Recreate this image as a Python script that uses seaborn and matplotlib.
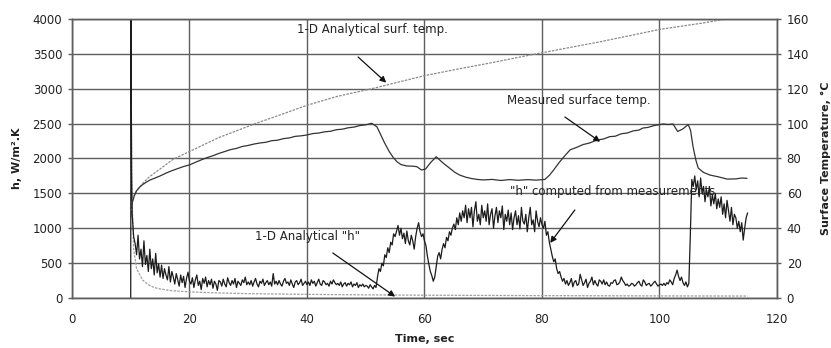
import numpy as np
import pandas as pd
import matplotlib
matplotlib.use("Agg")
import matplotlib.pyplot as plt
import seaborn as sns

# ---- heat transfer coefficient computed from measurements (W/m^2.K) ----
h_start_time = [10.0, 10.05, 10.15]
h_start_vals = [0, 4000, 1800]
h_grid_time = np.arange(10.25, 115.001, 0.25)        # 0.25 s sampling after start
h_meas = [
    # 10.25 - 15.0
    1200, 880, 780, 620, 900, 560, 700, 450, 820, 480, 610, 380, 700, 420, 560, 330, 640, 360, 490, 300,
    # 15.25 - 20.0
    470, 280, 420, 330, 260, 450, 230, 380, 300, 200, 350, 260, 170, 330, 220, 310, 150, 280, 370, 240,
    # 20.25 - 25.0
    200, 290, 150, 260, 330, 180, 240, 120, 280, 210, 300, 160, 250, 190, 270, 140, 240, 200, 110, 250,
    # 25.25 - 30.0
    230, 170, 270, 200, 160, 290, 220, 180, 250, 200, 280, 150, 240, 210, 180, 260, 220, 300, 190, 230,
    # 30.25 - 35.0
    190, 250, 170, 230, 280, 200, 160, 240, 210, 270, 180, 220, 250, 190, 230, 170, 350, 200, 240, 190,
    # 35.25 - 40.0
    250, 200, 170, 240, 280, 210, 230, 180, 260, 200, 150, 230, 250, 190, 220, 270, 180, 210, 240, 190,
    # 40.25 - 45.0
    230, 180, 260, 210, 240, 170, 220, 270, 200, 180, 250, 230, 190, 210, 170, 240, 200, 260, 220, 190,
    # 45.25 - 50.0
    210, 180, 230, 160, 200, 220, 170, 210, 190, 230, 160, 200, 180, 220, 150, 190, 170, 200, 160, 180,
    # 50.25 - 55.0
    170, 140, 190, 160, 130, 180, 150, 300, 420, 380, 500, 460, 620, 580, 720, 650, 800, 760, 920, 880,
    # 55.25 - 60.0
    960, 1040, 900, 1000, 850, 930, 780, 960, 820, 760, 900, 820, 700, 880, 1000, 1080, 950, 880, 920, 820,
    # 60.25 - 65.0
    750, 600, 480, 380, 320, 240, 300, 450, 600, 650, 560, 700, 780, 720, 870, 820, 950, 900, 1000, 1060,
    # 65.25 - 70.0
    980, 1150, 1050, 1220, 1100, 1250, 1150, 1330, 1080, 1280, 1150, 1300, 1020, 1250, 1380, 1100, 1200, 1050, 1330, 1150,
    # 70.25 - 75.0
    1250, 1100, 1350, 1050, 1200, 1280, 1000, 1180, 1300, 1080, 1250, 1150, 1320, 980, 1200, 1100, 1260, 1050, 1220, 980,
    # 75.25 - 80.0
    1150, 1250, 1050, 1180, 990, 1300, 1100, 1060, 1200, 950, 1150, 1300, 1050, 1120, 950, 1250, 1100, 1020, 1150, 1050,
    # 80.25 - 85.0
    1000, 1100, 900, 950, 800, 700, 600, 520, 560, 420, 350, 380, 300, 240, 280, 200, 250, 180, 220, 280,
    # 85.25 - 90.0
    160, 230, 250, 180, 200, 340, 260, 180, 220, 270, 150, 210, 240, 300, 190, 250, 200, 170, 260, 240,
    # 90.25 - 95.0
    200, 260, 190, 230, 180, 170, 220, 210, 250, 260, 190, 200, 230, 300, 250, 220, 180, 200, 170, 180,
    # 95.25 - 100.0
    210, 200, 170, 190, 220, 240, 190, 170, 260, 230, 180, 200, 210, 170, 190, 220, 240, 200, 170, 190,
    # 100.25 - 105.0
    200, 180, 210, 180, 220, 200, 260, 230, 190, 280, 330, 400, 310, 250, 300, 220, 180, 230, 160, 210,
    # 105.25 - 110.0
    900, 1700, 1600, 1750, 1550, 1680, 1450, 1720, 1500, 1600, 1380, 1550, 1450, 1600, 1320, 1480, 1350, 1500, 1280, 1420,
    # 110.25 - 115.0
    1300, 1450, 1200, 1350, 1150, 1400, 1250, 1100, 1300, 1050, 1200, 1150, 1000, 1100, 950, 1080, 830, 1000, 1150, 1220,
]

# ---- 1-D analytical h ----
h_ana_time = [10.0, 10.2, 10.5, 11, 12, 13, 14, 15, 17, 20, 25, 30, 40, 50, 60, 80, 100, 115]
h_ana_vals = [4000, 1500, 700, 420, 260, 190, 150, 130, 105, 88, 72, 62, 52, 45, 40, 34, 30, 28]

# ---- measured surface temperature (deg C) ----
t_meas_time = [10.0, 10.3, 10.6, 11.0, 11.5, 12.0, 12.7, 13.3, 14.0, 15.0, 16.0, 17.0, 18.0,
               19.0, 20.0, 21.0, 22.0, 23.0, 24.0, 25.0, 26.0, 26.9, 28.0, 29.0, 30.0, 31.0,
               32.0, 33.0, 34.0, 35.0, 36.0, 37.0, 38.0, 39.0, 40.0, 41.0, 42.0, 43.0, 44.0,
               45.0, 46.0, 47.0, 48.0, 49.0, 50.0, 51.0, 51.9, 52.5, 53.2, 54.0, 54.7, 55.3,
               56.0, 57.0, 58.0, 58.7, 59.5, 60.2, 61.0, 62.0, 62.8, 63.5, 64.3, 65.2, 66.0,
               67.0, 68.0, 69.0, 70.0, 71.5, 73.0, 74.5, 76.0, 77.5, 79.0, 80.5, 81.3, 82.0,
               83.0, 84.0, 84.8, 86.0, 87.0, 88.0, 89.4, 90.5, 91.5, 92.5, 93.5, 94.5, 95.5,
               96.5, 97.2, 98.0, 99.0, 99.8, 100.6, 101.5, 102.3, 103.1, 104.0, 104.9, 105.3,
               105.7, 106.2, 106.6, 107.5, 108.6, 110.0, 111.5, 113.0, 114.0, 114.9]
t_meas_vals = [50.5, 55, 58.5, 61.5, 63.5, 65, 66.5, 67.7, 68.6, 70, 71.6, 73, 74.2,
               75.4, 76.3, 77.8, 79.2, 80.5, 81.6, 82.9, 84, 85, 85.8, 86.9, 87.5, 88.3,
               88.9, 89.3, 90.2, 90.5, 91.4, 91.8, 92.7, 93.0, 93.5, 94.3, 94.6, 95.3, 95.6,
               96.5, 96.8, 97.6, 98.0, 98.9, 99.3, 100.2, 98.2, 94, 89, 84, 80.5, 78.2,
               76.5, 75.7, 75.6, 75.3, 73.4, 74, 77.5, 81, 78.5, 76.5, 74.4, 72, 70.5,
               69.3, 68.5, 68.0, 67.7, 68.0, 67.4, 67.9, 67.5, 67.9, 67.6, 68, 70.5, 73.5,
               78, 82, 85, 86.5, 88, 88.8, 90.6, 91.2, 92.5, 92.8, 94.2, 94.6, 95.8,
               96.3, 97.5, 97.8, 98.8, 99.3, 99.8, 99.5, 99.8, 95.5, 97, 99.5, 96,
               87, 79, 74.5, 72, 70.5, 69.5, 68.2, 68.3, 68.8, 68.6]

# ---- 1-D analytical surface temperature (deg C) ----
t_ana_time = [10.0, 10.3, 10.6, 11, 12, 13, 14, 15, 16, 17.2, 20, 25, 31.2, 35, 40, 45, 51,
              60, 66, 70, 79, 90, 100, 107, 111.4, 114.2]
t_ana_vals = [50, 56, 59, 61.5, 65.5, 69, 71.5, 74, 76.5, 79.5, 84, 92, 100, 104.5, 110.5,
              115.5, 120, 127.5, 131.5, 134, 140, 147, 154, 157.5, 160, 162]

x_ticks = list(range(0, 121, 20))
h_ticks = list(range(0, 4001, 500))
temp_ticks = list(range(0, 161, 20))

h_df = pd.DataFrame({"time": np.concatenate([h_start_time, h_grid_time]),
                     "h": np.concatenate([h_start_vals, h_meas])})
h_ana_df = pd.DataFrame({"time": h_ana_time, "h": h_ana_vals})
tm_df = pd.DataFrame({"time": t_meas_time, "temp": t_meas_vals})
ta_df = pd.DataFrame({"time": t_ana_time, "temp": t_ana_vals})

sns.set_style("white")
plt.rcParams["font.family"] = ["DejaVu Sans"]

fig = plt.figure(figsize=(8.31, 3.48), dpi=100)
ax = fig.add_axes([0.0866, 0.1437, 0.8484, 0.8017])
ax2 = ax.twinx()

grid_col = "#5e5e5e"
ink = "#1c1c1c"

sns.lineplot(data=h_ana_df, x="time", y="h", ax=ax, color="#a0a0a0", lw=0.9,
             linestyle=(0, (2, 1)), estimator=None, sort=False)
sns.lineplot(data=h_df, x="time", y="h", ax=ax, color=ink, lw=0.9,
             estimator=None, sort=False)
sns.lineplot(data=ta_df, x="time", y="temp", ax=ax2, color="#8a8a8a", lw=0.9,
             linestyle=(0, (2, 1)), estimator=None, sort=False)
sns.lineplot(data=tm_df, x="time", y="temp", ax=ax2, color="#333333", lw=0.9,
             estimator=None, sort=False)

ax.set_xlim(0, 120)
ax.set_ylim(0, 4000)
ax2.set_ylim(0, 160)
ax.set_xticks(x_ticks)
ax.set_yticks(h_ticks)
ax2.set_yticks(temp_ticks)
ax.grid(True, color=grid_col, lw=1.0)
ax.set_axisbelow(True)
ax2.grid(False)

for a in (ax, ax2):
    for s in a.spines.values():
        s.set_color(grid_col)
        s.set_linewidth(1.0)

ax.tick_params(axis="y", direction="out", length=3, width=1, color=grid_col,
               labelsize=8.5, labelcolor="#222", pad=4)
ax.tick_params(axis="x", direction="out", length=3, width=1, color=grid_col,
               labelsize=8.5, labelcolor="#222", pad=8)
ax2.tick_params(axis="y", direction="out", length=3, width=1, color=grid_col,
                labelsize=8.5, labelcolor="#222", pad=4)

ax.set_xlabel("Time, sec", fontsize=8, fontweight="bold", color="#222")
ax.set_ylabel("h, W/m².K", fontsize=8, fontweight="bold", color="#222")
ax2.set_ylabel("Surface Temperature, °C", fontsize=8, fontweight="bold", color="#222")
ax.xaxis.set_label_coords(0.5007, -0.129)
ax.yaxis.set_label_coords(-0.071, 0.5)
ax2.yaxis.set_label_coords(1.0624, 0.5)

arrow = dict(arrowstyle="-|>", color="#111", lw=0.9, mutation_scale=9, shrinkA=0, shrinkB=0)
txt = dict(fontsize=8.5, color="#222", ha="left", va="center")

ax2.annotate("", xy=(53.5, 123.5), xytext=(48.7, 138.2), arrowprops=arrow)
ax2.text(38.3, 153.7, "1-D Analytical surf. temp.", **txt)
ax2.annotate("", xy=(89.9, 89.6), xytext=(83.9, 103.8), arrowprops=arrow)
ax2.text(74.0, 113.5, "Measured surface temp.", **txt)
ax.annotate("", xy=(81.4, 790), xytext=(85.6, 1262), arrowprops=arrow)
ax.text(74.6, 1520, "\"h\" computed from measurements", **txt)
ax.annotate("", xy=(55.0, 20), xytext=(44.4, 645), arrowprops=arrow)
ax.text(31.1, 875, "1-D Analytical \"h\"", **txt)

fig.savefig("out.png", dpi=100)
